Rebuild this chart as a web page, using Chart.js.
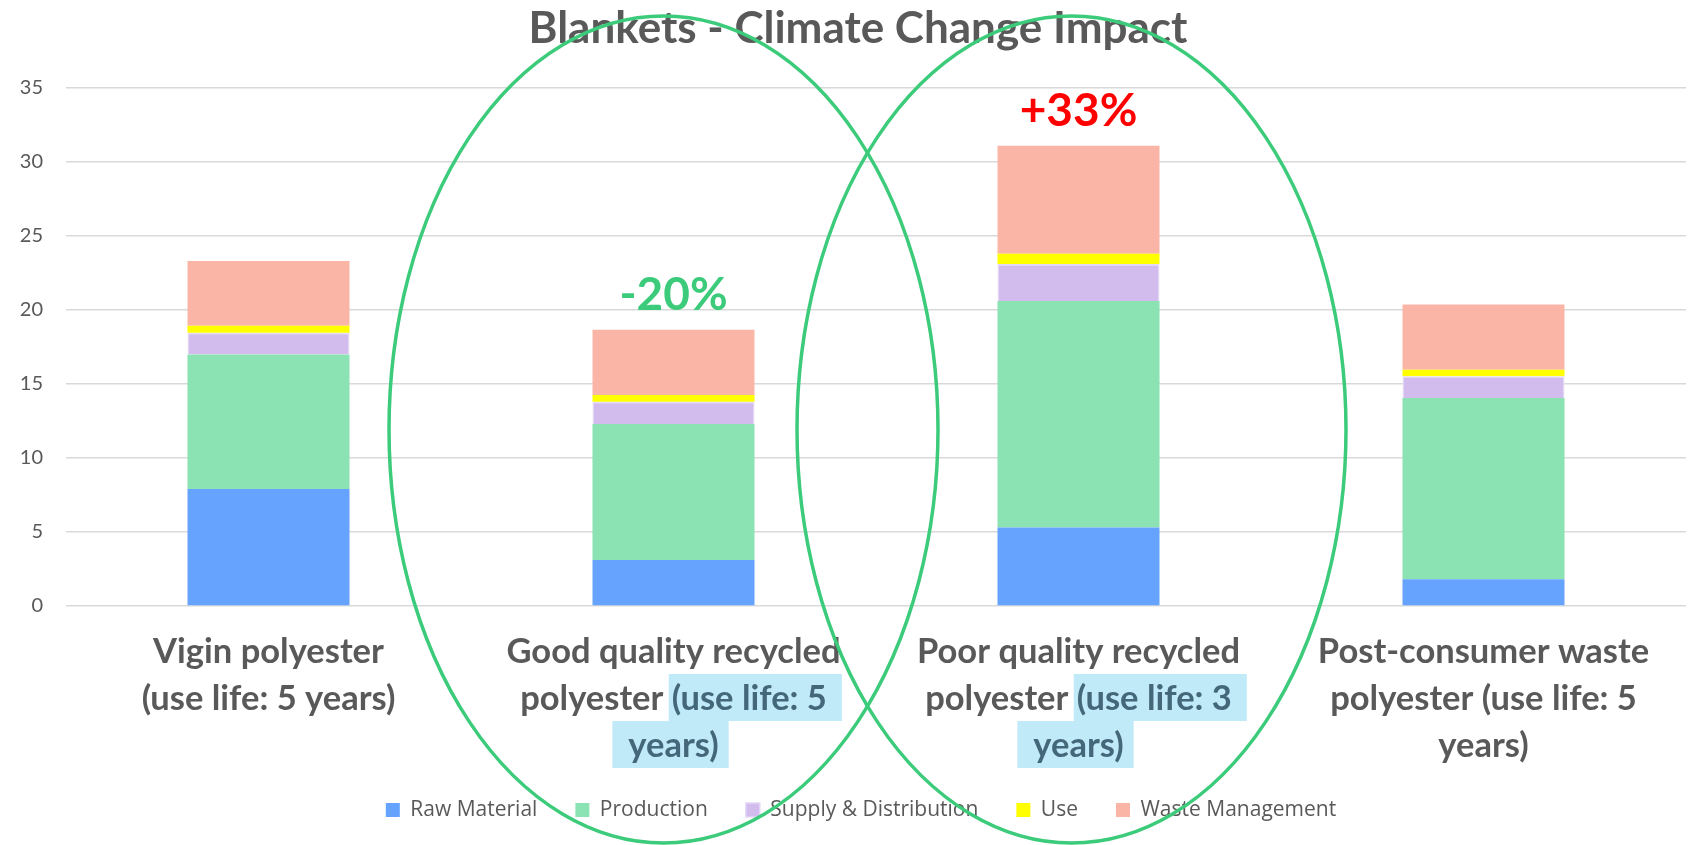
<!DOCTYPE html>
<html>
<head>
<meta charset="utf-8">
<title>Blankets - Climate Change Impact</title>
<script src="https://cdn.jsdelivr.net/npm/chart.js@4.4.1/dist/chart.umd.min.js"></script>
<style>
  html, body { margin: 0; padding: 0; background: #fff; }
  #wrap { width: 1695px; height: 845px; position: relative; }
</style>
</head>
<body>
<div id="wrap"><canvas id="impact"></canvas></div>
<script>
const categories = [
    'Vigin polyester (use life: 5 years)',
    'Good quality recycled polyester (use life: 5 years)',
    'Poor quality recycled polyester (use life: 3 years)',
    'Post-consumer waste polyester (use life: 5 years)'
];

// how the category names wrap under the bars
const tickLines = [
    ['Vigin polyester', '(use life: 5 years)'],
    ['Good quality recycled', 'polyester (use life: 5', 'years)'],
    ['Poor quality recycled', 'polyester (use life: 3', 'years)'],
    ['Post-consumer waste', 'polyester (use life: 5', 'years)']
];
const highlightUseLife = [false, true, true, false];

const rawMaterial = [7.9, 3.1, 5.3, 1.8];
const production = [9.1, 9.2, 15.3, 12.25];
const supplyDistribution = [1.47, 1.5, 2.5, 1.47];
const use = [0.47, 0.46, 0.7, 0.45];
const wasteManagement = [4.37, 4.4, 7.3, 4.4];

const changeLabels = ['', '-20%', '+33%', ''];
const changeColors = ['', '#3CCB7A', '#FF0000', ''];

const grey = '#595959';

const overlayPlugin = {
    id: 'overlay',
    afterLayout(chart, args, opts) {
        // nudge title and legend a little right, like the original
        chart.titleBlock.left += opts.titleShift;
        chart.titleBlock.right += opts.titleShift;
        chart.legend.left += opts.legendShift;
        chart.legend.right += opts.legendShift;
    },
    afterDraw(chart, args, opts) {
        const ctx = chart.ctx;
        const x = chart.scales.x;
        const y = chart.scales.y;
        ctx.save();

        // category labels, with the highlighted "use life" part
        ctx.font = 'bold 34.5px Lato';
        ctx.textAlign = 'left';
        ctx.textBaseline = 'alphabetic';
        tickLines.forEach((lines, i) => {
            const cx = x.getPixelForValue(i);
            let inHl = false;
            lines.forEach((line, j) => {
                const base = x.top + 57 + j * 47;
                let plain = line, hl = '';
                if (highlightUseLife[i]) {
                    const k = line.indexOf('(');
                    if (k >= 0) {
                        plain = line.slice(0, k);
                        hl = line.slice(k);
                        inHl = true;
                    } else if (inHl) {
                        plain = '';
                        hl = line;
                    }
                }
                const wp = ctx.measureText(plain).width;
                const wh = ctx.measureText(hl).width;
                const left = cx - (wp + wh) / 2;
                if (hl) {
                    const padL = plain ? 3 : 16;
                    const padR = plain ? 15 : 10;
                    ctx.fillStyle = '#C1EAF9';
                    ctx.fillRect(left + wp - padL, base - 36, wh + padL + padR, 47);
                }
                ctx.fillStyle = grey;
                ctx.fillText(plain, left, base);
                ctx.fillStyle = '#44687A';
                ctx.fillText(hl, left + wp, base);
            });
        });

        // change labels over the bars
        ctx.font = 'bold 46px Lato';
        ctx.textAlign = 'center';
        changeLabels.forEach((t, i) => {
            if (!t) return;
            const total = rawMaterial[i] + production[i] + supplyDistribution[i] + use[i] + wasteManagement[i];
            ctx.fillStyle = changeColors[i];
            ctx.fillText(t, x.getPixelForValue(i), y.getPixelForValue(total) - 20);
        });

        // green ellipses
        ctx.strokeStyle = '#3CCB7A';
        ctx.lineWidth = 3.5;
        const top = 16, bottom = chart.height - 2;
        opts.circles.forEach(c => {
            ctx.beginPath();
            ctx.ellipse(x.getPixelForValue(c.index) + c.dx, (top + bottom) / 2,
                        opts.rx, (bottom - top) / 2, 0, 0, Math.PI * 2);
            ctx.stroke();
        });
        ctx.restore();
    }
};

new Chart(document.getElementById('impact'), {
    type: 'bar',
    data: {
        labels: categories,
        datasets: [
            { label: 'Raw Material', data: rawMaterial, backgroundColor: '#66A3FF' },
            { label: 'Production', data: production, backgroundColor: '#8BE2B2' },
            { label: 'Supply & Distribution', data: supplyDistribution, backgroundColor: '#D2BCEE',
              borderColor: '#E4D8F7', borderWidth: 1.5 },
            { label: 'Use', data: use, backgroundColor: '#FFFF00' },
            { label: 'Waste Management', data: wasteManagement, backgroundColor: '#FBB5A6' }
        ]
    },
    plugins: [overlayPlugin],
    options: {
        responsive: true,
        maintainAspectRatio: false,
        animation: false,
        categoryPercentage: 0.8,
        barPercentage: 0.5,
        layout: { padding: { left: 20, right: 9, top: 0, bottom: 14.5 } },
        scales: {
            x: {
                stacked: true,
                grid: { display: false },
                border: { display: false },
                ticks: { display: false },
                afterFit(scale) { scale.height = 155.5; }
            },
            y: {
                stacked: true,
                min: 0,
                max: 35,
                ticks: {
                    stepSize: 5,
                    padding: 23,
                    color: grey,
                    font: { family: 'Lato', size: 20 }
                },
                grid: { color: '#D9D9D9', lineWidth: 1.5, drawTicks: false },
                border: { display: false },
                afterFit(scale) { scale.width = 46; }
            }
        },
        plugins: {
            title: {
                display: true,
                text: 'Blankets - Climate Change Impact',
                color: grey,
                font: { family: 'Lato', size: 44, weight: 'bold' },
                padding: { top: 2.6, bottom: 32.6 }
            },
            legend: {
                position: 'bottom',
                labels: {
                    color: grey,
                    font: { family: 'Open Sans', size: 21 },
                    boxWidth: 14,
                    boxHeight: 14,
                    padding: 38
                }
            },
            tooltip: { enabled: false },
            overlay: {
                titleShift: 5,
                legendShift: 8,
                rx: 274.5,
                circles: [{ index: 1, dx: -10 }, { index: 2, dx: -7 }]
            }
        }
    }
});
</script>
</body>
</html>
